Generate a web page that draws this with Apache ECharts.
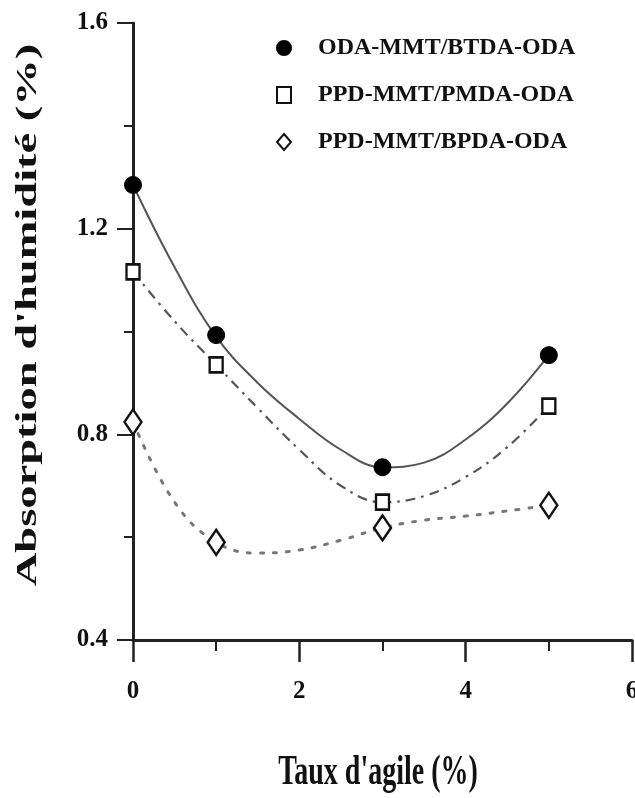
<!DOCTYPE html>
<html>
<head>
<meta charset="utf-8">
<script src="https://cdn.jsdelivr.net/npm/echarts@6/dist/echarts.min.js"></script>
<style>html,body{margin:0;padding:0;background:#fff;}#c{width:635px;height:798px;}</style>
</head>
<body>
<div id="c"></div>
<script>
// Measured points
const xValues = [0, 1, 3, 5];
const odaBtda = [1.285, 0.993, 0.736, 0.954];
const ppdPmda = [1.116, 0.935, 0.668, 0.855];
const ppdBpda = [0.824, 0.59, 0.618, 0.662];
// Fitted curves
const fitX = [0, 0.5, 1, 1.5, 2, 2.5, 3, 3.5, 4, 4.5, 5];
const fitOdaBtda = [1.285, 1.125, 0.99, 0.9, 0.83, 0.77, 0.736, 0.745, 0.79, 0.86, 0.954];
const fitPpdPmda = [1.116, 1.02, 0.935, 0.851, 0.77, 0.70, 0.668, 0.68, 0.717, 0.775, 0.855];
const fitPpdBpda = [0.824, 0.668, 0.59, 0.569, 0.575, 0.594, 0.618, 0.633, 0.641, 0.651, 0.662];
const seriesNames = ['ODA-MMT/BTDA-ODA', 'PPD-MMT/PMDA-ODA', 'PPD-MMT/BPDA-ODA'];
const xTitle = "Taux d'agile (%)";
const yTitle = "Absorption d'humidité (%)";

const pair = (xs, ys) => xs.map((x, i) => [x, ys[i]]);
const FONT = '"Liberation Serif", "Times New Roman", serif';
const lineColor = '#555';

const chart = echarts.init(document.getElementById('c'), null, {renderer: 'canvas'});
chart.setOption({
  animation: false,
  backgroundColor: '#fff',
  grid: {left: 133, right: 3, top: 23, bottom: 158, containLabel: false, outerBoundsMode: 'none'},
  xAxis: {
    type: 'value', min: 0, max: 6, interval: 2,
    axisLine: {show: true, lineStyle: {color: '#222', width: 3}},
    axisTick: {show: true, length: 22, lineStyle: {color: '#222', width: 2.5}},
    minorTick: {show: true, splitNumber: 2, length: 11, lineStyle: {color: '#222', width: 2}},
    splitLine: {show: false},
    axisLabel: {margin: 39, color: '#111', fontFamily: FONT, fontWeight: 'bold', fontSize: 25, verticalAlign: 'top'}
  },
  yAxis: {
    type: 'value', min: 0.4, max: 1.6, interval: 0.4,
    axisLine: {show: true, lineStyle: {color: '#222', width: 3}},
    axisTick: {show: true, length: 16, lineStyle: {color: '#222', width: 2}},
    minorTick: {show: true, splitNumber: 2, length: 9, lineStyle: {color: '#222', width: 2}},
    splitLine: {show: false},
    axisLabel: {margin: 25, color: '#111', fontFamily: FONT, fontWeight: 'bold', fontSize: 25,
      formatter: v => v.toFixed(1)}
  },
  legend: {
    orient: 'vertical', left: 271, top: 31, itemGap: 23,
    itemWidth: 14, itemHeight: 16,
    data: seriesNames,
    textStyle: {color: '#111', fontFamily: FONT, fontWeight: 'bold', fontSize: 24, padding: [0, 0, 0, 22]}
  },
  graphic: [
    {type: 'text', x: 378, y: 773, scaleY: 1.5,
      style: {text: xTitle, font: 'bold 28px ' + FONT, fill: '#111', align: 'center', verticalAlign: 'middle'}},
    {type: 'text', x: 28, y: 315, rotation: Math.PI / 2, scaleX: 1.55,
      style: {text: yTitle, font: 'bold 30px ' + FONT, fill: '#111', align: 'center', verticalAlign: 'middle'}}
  ],
  series: [
    {name: 'fit1', type: 'line', smooth: 0.4, showSymbol: false, data: pair(fitX, fitOdaBtda),
      lineStyle: {color: lineColor, width: 2, type: 'solid'}, z: 2},
    {name: 'fit2', type: 'line', smooth: 0.4, showSymbol: false, data: pair(fitX, fitPpdPmda),
      lineStyle: {color: lineColor, width: 2.2, type: [10, 6, 2.5, 6]}, z: 2},
    {name: 'fit3', type: 'line', smooth: 0.4, showSymbol: false, data: pair(fitX, fitPpdBpda),
      lineStyle: {color: '#777', width: 3, type: [3, 10], cap: 'round'}, z: 2},
    {name: seriesNames[0], type: 'scatter', symbol: 'circle', symbolSize: 17, data: pair(xValues, odaBtda),
      itemStyle: {color: '#000', borderColor: '#000', borderWidth: 1, opacity: 1}, z: 5},
    {name: seriesNames[1], type: 'scatter', symbol: 'rect', symbolSize: [13, 15], data: pair(xValues, ppdPmda),
      itemStyle: {color: '#fff', borderColor: '#111', borderWidth: 2.5, opacity: 1}, z: 5},
    {name: seriesNames[2], type: 'scatter', symbol: 'diamond', symbolSize: [17, 25], data: pair(xValues, ppdBpda),
      itemStyle: {color: '#fff', borderColor: '#111', borderWidth: 2.5, opacity: 1}, z: 5}
  ]
});
</script>
</body>
</html>
